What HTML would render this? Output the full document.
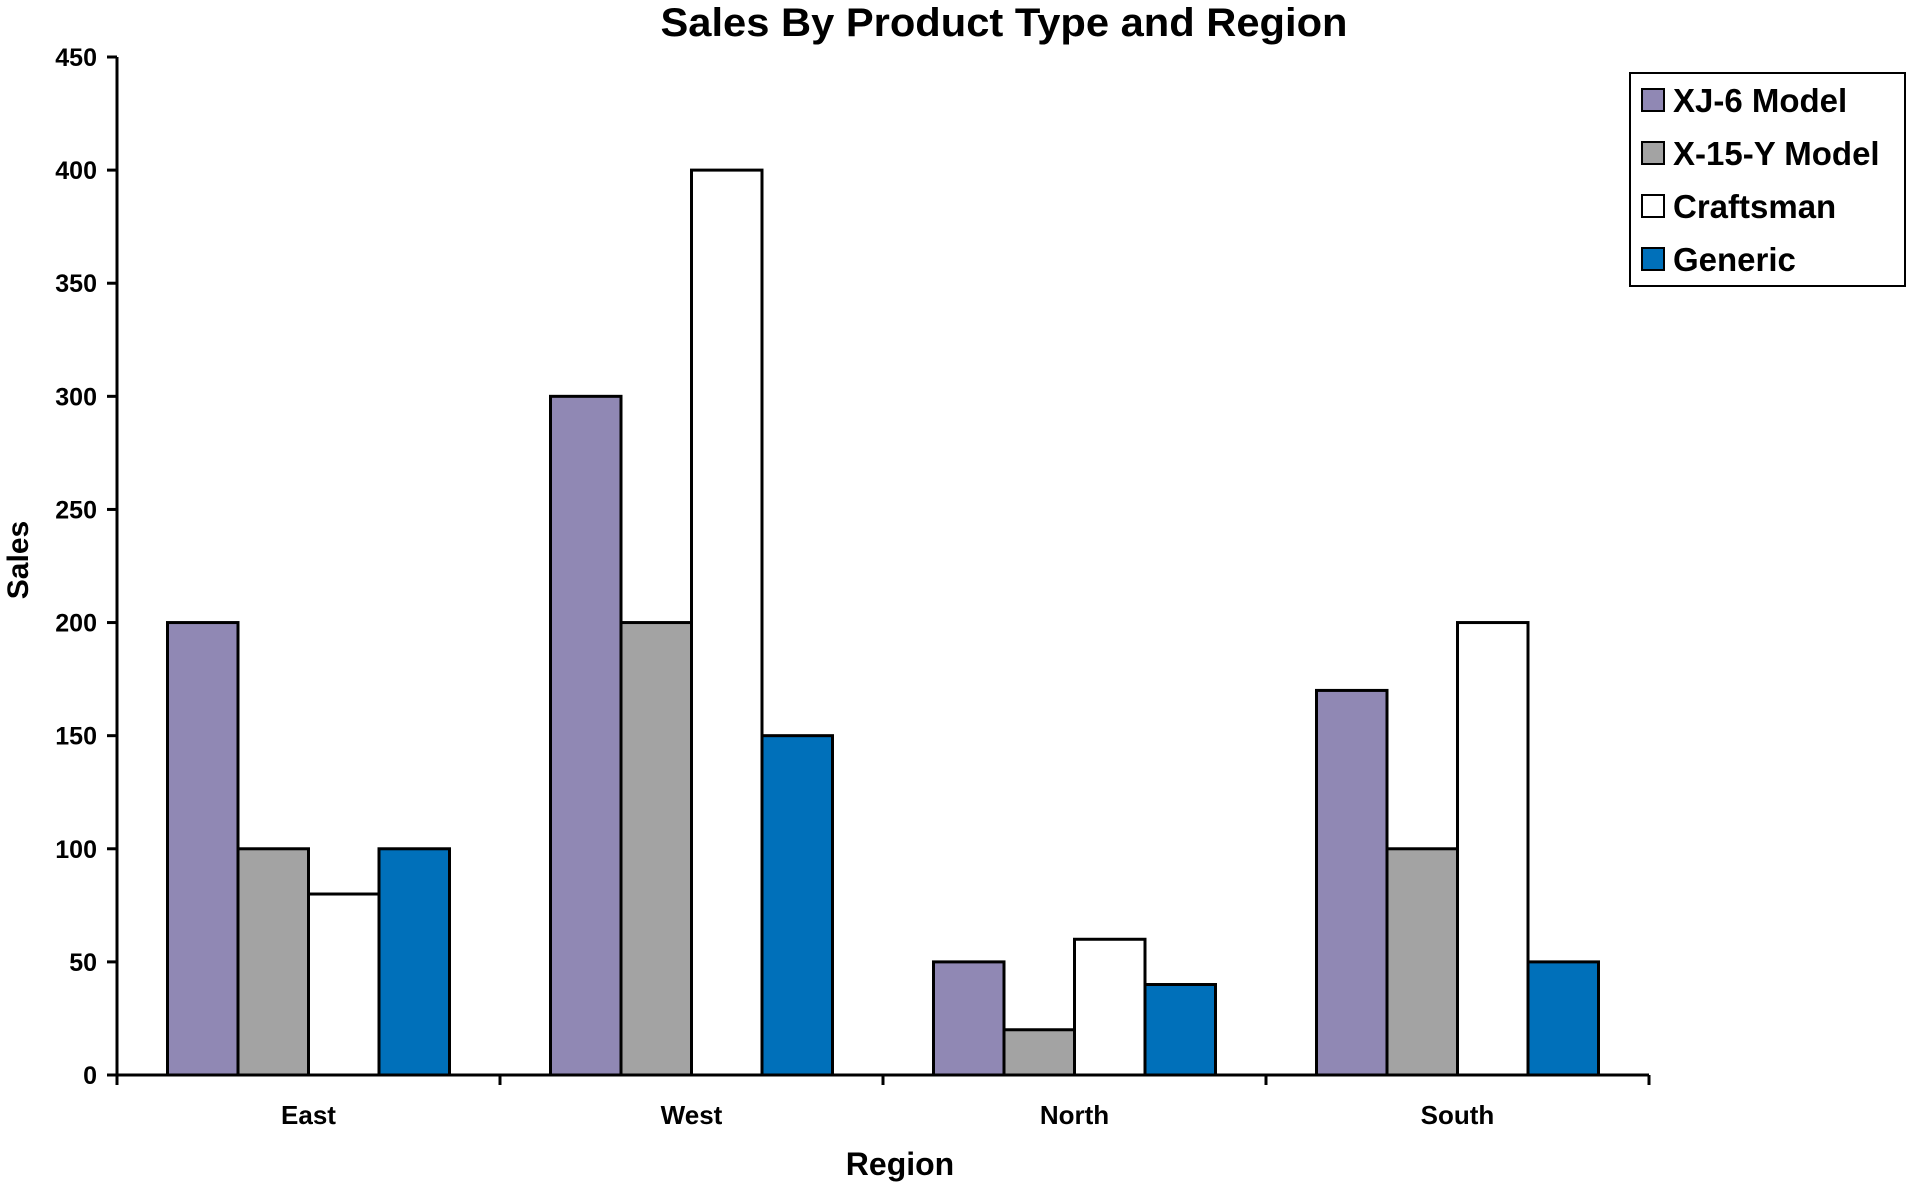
<!DOCTYPE html>
<html><head><meta charset="utf-8"><style>
html,body{margin:0;padding:0;background:#fff;}
svg{display:block;font-family:"Liberation Sans",Arial,sans-serif;font-weight:bold;}
</style></head><body>
<svg id="chart" width="1907" height="1189" viewBox="0 0 1907 1189">
<text x="1004" y="36" text-anchor="middle" font-size="40" textLength="687" lengthAdjust="spacingAndGlyphs">Sales By Product Type and Region</text>
<g id="plot"></g>
<text x="900" y="1175" text-anchor="middle" font-size="32">Region</text>
<text transform="translate(28,560) rotate(-90)" text-anchor="middle" font-size="30">Sales</text>
<g>
<rect x="1630" y="73" width="275" height="213" fill="#fff" stroke="#000" stroke-width="2"/>
<g id="legend-items"></g>
</g>
</svg>
<script>
const categories = ["East","West","North","South"];
const seriesNames = ["XJ-6 Model","X-15-Y Model","Craftsman","Generic"];
const seriesColors = ["#9088b4","#a3a3a3","#ffffff","#0070ba"];
const xj6 = [200,300,50,170];
const x15y = [100,200,20,100];
const craftsman = [80,400,60,200];
const generic = [100,150,40,50];
const yTicks = [0,50,100,150,200,250,300,350,400,450];
const seriesData = [xj6,x15y,craftsman,generic];

const NS="http://www.w3.org/2000/svg";
const plot=document.getElementById('plot');
const x0=117,x1=1649,yTop=57,yBot=1075,yMax=450;
const y=v=>yBot-(v/yMax)*(yBot-yTop);
const catW=(x1-x0)/categories.length;
const barW=70.5;
function mk(tag,attrs){const e=document.createElementNS(NS,tag);for(const k in attrs)e.setAttribute(k,attrs[k]);return e;}

seriesData.forEach((arr,s)=>{
  arr.forEach((v,i)=>{
    const cx=x0+catW*(i+0.5);
    const bx=cx-2*barW+s*barW;
    const r=mk('rect',{x:bx,y:y(v),width:barW,height:yBot-y(v),fill:seriesColors[s],stroke:'#000','stroke-width':3});
    
    
    plot.appendChild(r);
  });
});
// axes
const ya=mk('line',{x1:x0,y1:yTop,x2:x0,y2:yBot+10,stroke:'#000','stroke-width':3});


plot.appendChild(ya);
const xa=mk('line',{x1:x0-10,y1:yBot,x2:x1,y2:yBot,stroke:'#000','stroke-width':3});


plot.appendChild(xa);
yTicks.forEach(t=>{
  const l=mk('line',{x1:x0-10,y1:y(t),x2:x0,y2:y(t),stroke:'#000','stroke-width':3});
  
  
  plot.appendChild(l);
  const tx=mk('text',{x:x0-20,y:y(t)+9,'text-anchor':'end','font-size':25});
  tx.textContent=t;
  
  
  plot.appendChild(tx);
});
categories.forEach((c,i)=>{
  const bx=x0+catW*(i+1);
  const l=mk('line',{x1:bx,y1:yBot,x2:bx,y2:yBot+10,stroke:'#000','stroke-width':3});
  
  
  plot.appendChild(l);
  const tx=mk('text',{x:x0+catW*(i+0.5),y:1124,'text-anchor':'middle','font-size':26});
  tx.textContent=c;
  
  
  plot.appendChild(tx);
});
const leg=document.getElementById('legend-items');
const rowY=[100,153,206,259];
seriesNames.forEach((n,s)=>{
  const r=mk('rect',{x:1642,y:rowY[s]-11,width:22,height:22,fill:seriesColors[s],stroke:'#000','stroke-width':2});
  
  
  leg.appendChild(r);
  const t=mk('text',{x:1673,y:rowY[s]+12,'font-size':33});
  t.textContent=n;
  
  
  leg.appendChild(t);
});
</script>
</body></html>
